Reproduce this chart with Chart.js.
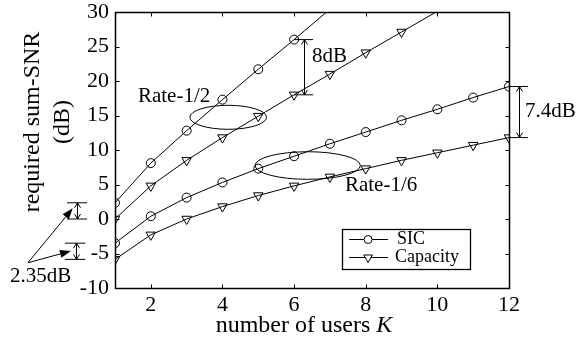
<!DOCTYPE html>
<html>
<head>
<meta charset="utf-8">
<script src="https://cdn.jsdelivr.net/npm/chart.js@4.4.0/dist/chart.umd.min.js"></script>
<style>
  html, body { margin: 0; padding: 0; background: #fff; }
  #wrap { width: 581px; height: 338px; }
</style>
</head>
<body>
<div id="wrap"><canvas id="c" width="581" height="338"></canvas></div>
<script>
// Required sum-SNR (dB) versus number of users K
const users = [1, 2, 3, 4, 5, 6, 7, 8, 9, 10, 11, 12];
const sicRateHalf = [2.35, 8.1, 12.8, 17.3, 21.7, 26.0, 30.4];
const capRateHalf = [0, 4.8, 8.5, 11.8, 14.9, 18.0, 21.0, 24.1, 27.1, 30.1];
const sicRateSixth = [-3.5, 0.4, 3.1, 5.3, 7.3, 9.1, 10.9, 12.6, 14.3, 15.9, 17.6, 19.2];
const capRateSixth = [-5.85, -2.3, 0, 1.8, 3.4, 4.8, 6.1, 7.3, 8.5, 9.6, 10.7, 11.8];
const xTicks = [2, 4, 6, 8, 10, 12];
const yTicks = [-10, -5, 0, 5, 10, 15, 20, 25, 30];
const legendLabels = ['SIC', 'Capacity'];
const groupLabels = ['Rate-1/2', 'Rate-1/6'];

const X_MIN = 1, X_MAX = 12, Y_MIN = -10, Y_MAX = 30;
const SERIF = '"Liberation Serif", "Times New Roman", serif';

function toPoints(vals) {
  return vals.map((v, i) => ({ x: users[i], y: v }));
}

function seriesStyle(kind) {
  const tri = kind === 'tri';
  return {
    borderColor: '#000',
    borderWidth: 1,
    backgroundColor: 'rgba(0,0,0,0)',
    pointStyle: tri ? 'triangle' : 'circle',
    rotation: tri ? 180 : 0,
    pointBorderColor: '#000',
    pointBackgroundColor: 'rgba(0,0,0,0)',
    pointBorderWidth: 1,
    pointRadius: ctx => (ctx.raw && ctx.raw.y > Y_MAX ? 0 : (tri ? 5.5 : 4.5)),
    pointHoverRadius: 0,
    tension: 0,
    fill: false
  };
}

// helpers for the overlay
function line(ctx, x1, y1, x2, y2) {
  ctx.beginPath(); ctx.moveTo(x1, y1); ctx.lineTo(x2, y2); ctx.stroke();
}
function openHead(ctx, x, y, dir) {
  // small V head pointing up (dir=-1) or down (dir=1)
  ctx.beginPath();
  ctx.moveTo(x - 3, y - dir * 5);
  ctx.lineTo(x, y);
  ctx.lineTo(x + 3, y - dir * 5);
  ctx.stroke();
}
function dimension(ctx, x, yTop, yBot, x0, x1) {
  line(ctx, x0, yTop, x1, yTop);
  line(ctx, x0, yBot, x1, yBot);
  line(ctx, x, yTop, x, yBot);
  openHead(ctx, x, yTop, -1);
  openHead(ctx, x, yBot, 1);
}
function filledArrow(ctx, x1, y1, x2, y2) {
  const a = Math.atan2(y2 - y1, x2 - x1);
  const L = 11, W = 4;
  const bx = x2 - L * Math.cos(a), by = y2 - L * Math.sin(a);
  line(ctx, x1, y1, bx, by);
  ctx.beginPath();
  ctx.moveTo(x2, y2);
  ctx.lineTo(bx + W * Math.sin(a), by - W * Math.cos(a));
  ctx.lineTo(bx - W * Math.sin(a), by + W * Math.cos(a));
  ctx.closePath();
  ctx.fill();
}

const overlay = {
  id: 'overlay',
  afterDatasetsDraw(chart) {
    const { ctx, chartArea: a, scales: { x, y } } = chart;
    const px = v => x.getPixelForValue(v);
    const py = v => y.getPixelForValue(v);
    ctx.save();
    ctx.strokeStyle = '#000';
    ctx.fillStyle = '#000';

    // axes box with inward ticks
    const L = Math.round(a.left) + 0.5, R = Math.round(a.right) + 0.5;
    const T = Math.round(a.top) + 0.5, B = Math.round(a.bottom) + 0.5;
    ctx.lineWidth = 1.5;
    ctx.beginPath();
    ctx.moveTo(L, T); ctx.lineTo(R, T); ctx.lineTo(R, B); ctx.lineTo(L, B); ctx.closePath();
    ctx.stroke();
    ctx.lineWidth = 1;
    const TL = 4;
    xTicks.forEach(v => {
      const p = Math.round(px(v)) + 0.5;
      line(ctx, p, B, p, B - TL);
      line(ctx, p, T, p, T + TL);
    });
    yTicks.forEach(v => {
      const p = Math.round(py(v)) + 0.5;
      line(ctx, L, p, L + TL, p);
      line(ctx, R, p, R - TL, p);
    });

    // group ellipses
    ctx.beginPath();
    ctx.ellipse(px(4.16), py(14.74), px(4.16 + 1.07) - px(4.16), py(14.74) - py(14.74 + 1.74), 0, 0, Math.PI * 2);
    ctx.stroke();
    ctx.beginPath();
    ctx.ellipse(px(6.38), py(7.75), px(6.38 + 1.47) - px(6.38), py(7.75) - py(7.75 + 2.0), 0, 0, Math.PI * 2);
    ctx.stroke();

    ctx.font = '21px ' + SERIF;
    ctx.textBaseline = 'middle';
    ctx.textAlign = 'left';
    ctx.fillText(groupLabels[0], px(1.64), py(17.7));
    ctx.fillText(groupLabels[1], px(7.42), py(4.8));

    // gap between SIC and capacity at K=6 (rate-1/2)
    const g1 = (sicRateHalf[5] - capRateHalf[5]).toFixed(0);
    dimension(ctx, Math.round(px(6.28)) + 0.5, py(sicRateHalf[5]), py(capRateHalf[5]), px(6), px(6.53));
    ctx.fillText(g1 + 'dB', px(6.5), py(23.6));

    // gap at K=12 (rate-1/6)
    const g2 = (sicRateSixth[11] - capRateSixth[11]).toFixed(1);
    dimension(ctx, Math.round(px(12.28)) + 0.5, py(sicRateSixth[11]), py(capRateSixth[11]), px(12), px(12.53));
    ctx.fillText(g2 + 'dB', px(12.45), py(15.55));

    // gap at K=1 for both rates
    const g3 = (sicRateHalf[0] - capRateHalf[0]).toFixed(2);
    dimension(ctx, Math.round(px(-0.06)) + 0.5, py(sicRateHalf[0]), py(capRateHalf[0]), px(-0.34), px(0.22));
    dimension(ctx, Math.round(px(-0.09)) + 0.5, py(sicRateSixth[0]), py(capRateSixth[0]), px(-0.4), px(0.17));
    filledArrow(ctx, px(-1.43), py(-6.34), px(-0.18), py(1.55));
    filledArrow(ctx, px(-1.43), py(-6.34), px(-0.23), py(-4.64));
    ctx.fillText(g3 + 'dB', px(-1.93), py(-8.4));

    // legend
    const lx0 = px(7.34), lx1 = px(10.92), ly0 = py(-1.45), ly1 = py(-7.25);
    ctx.fillStyle = '#fff';
    ctx.fillRect(lx0, ly0, lx1 - lx0, ly1 - ly0);
    ctx.lineWidth = 1.3;
    ctx.strokeRect(Math.round(lx0) + 0.5, Math.round(ly0) + 0.5, Math.round(lx1 - lx0), Math.round(ly1 - ly0));
    ctx.lineWidth = 1;
    ctx.font = '18px ' + SERIF;
    legendLabels.forEach((lab, i) => {
      const ry = Math.round(ly0 + 10 + i * 18) + 0.5;
      line(ctx, lx0 + 7, ry, lx0 + 46, ry);
      ctx.fillStyle = '#fff';
      if (i === 0) {
        Chart.helpers.drawPoint(ctx, { pointStyle: 'circle', radius: 4, borderWidth: 1 }, lx0 + 26, ry);
      } else {
        Chart.helpers.drawPoint(ctx, { pointStyle: 'triangle', rotation: 180, radius: 5, borderWidth: 1 }, lx0 + 26, ry);
      }
      ctx.fillStyle = '#000';
      ctx.fillText(lab, lx0 + (i === 0 ? 55 : 53), ry);
    });

    // axis titles
    ctx.textBaseline = 'alphabetic';
    const t1 = 'number of users ';
    ctx.font = '24px ' + SERIF;
    const w1 = ctx.measureText(t1).width;
    ctx.font = 'italic 24px ' + SERIF;
    const w2 = ctx.measureText('K').width;
    const sx = 304 - (w1 + w2) / 2;
    ctx.font = '24px ' + SERIF;
    ctx.fillText(t1, sx, 332);
    ctx.font = 'italic 24px ' + SERIF;
    ctx.fillText('K', sx + w1, 332);

    ctx.font = '24px ' + SERIF;
    ctx.textAlign = 'center';
    ctx.translate(0, 122);
    ctx.rotate(-Math.PI / 2);
    ctx.fillText('required sum-SNR', 0, 39);
    ctx.fillText('(dB)', 0, 69);
    ctx.restore();
  }
};

new Chart(document.getElementById('c'), {
  type: 'line',
  data: {
    datasets: [
      Object.assign({ label: 'Rate-1/2 SIC', data: toPoints(sicRateHalf) }, seriesStyle('circ')),
      Object.assign({ label: 'Rate-1/2 Capacity', data: toPoints(capRateHalf) }, seriesStyle('tri')),
      Object.assign({ label: 'Rate-1/6 SIC', data: toPoints(sicRateSixth) }, seriesStyle('circ')),
      Object.assign({ label: 'Rate-1/6 Capacity', data: toPoints(capRateSixth) }, seriesStyle('tri'))
    ]
  },
  options: {
    responsive: false,
    devicePixelRatio: 1,
    animation: false,
    events: [],
    layout: { padding: { top: 12, right: 72, left: 0, bottom: 0 } },
    plugins: { legend: { display: false }, tooltip: { enabled: false } },
    scales: {
      x: {
        type: 'linear', min: X_MIN, max: X_MAX,
        afterBuildTicks: s => { s.ticks = xTicks.map(v => ({ value: v })); },
        afterFit: s => { s.height = 50; s.paddingLeft = 0; s.paddingRight = 0; },
        grid: { display: false, drawTicks: false },
        border: { display: false },
        ticks: { color: '#000', font: { family: SERIF, size: 22 }, padding: 4, maxRotation: 0, autoSkip: false }
      },
      y: {
        type: 'linear', min: Y_MIN, max: Y_MAX,
        afterBuildTicks: s => { s.ticks = yTicks.map(v => ({ value: v })); },
        afterFit: s => { s.width = 115; s.paddingTop = 0; s.paddingBottom = 0; },
        grid: { display: false, drawTicks: false },
        border: { display: false },
        ticks: { color: '#000', font: { family: SERIF, size: 22 }, padding: 6, autoSkip: false }
      }
    }
  },
  plugins: [overlay]
});
</script>
</body>
</html>
